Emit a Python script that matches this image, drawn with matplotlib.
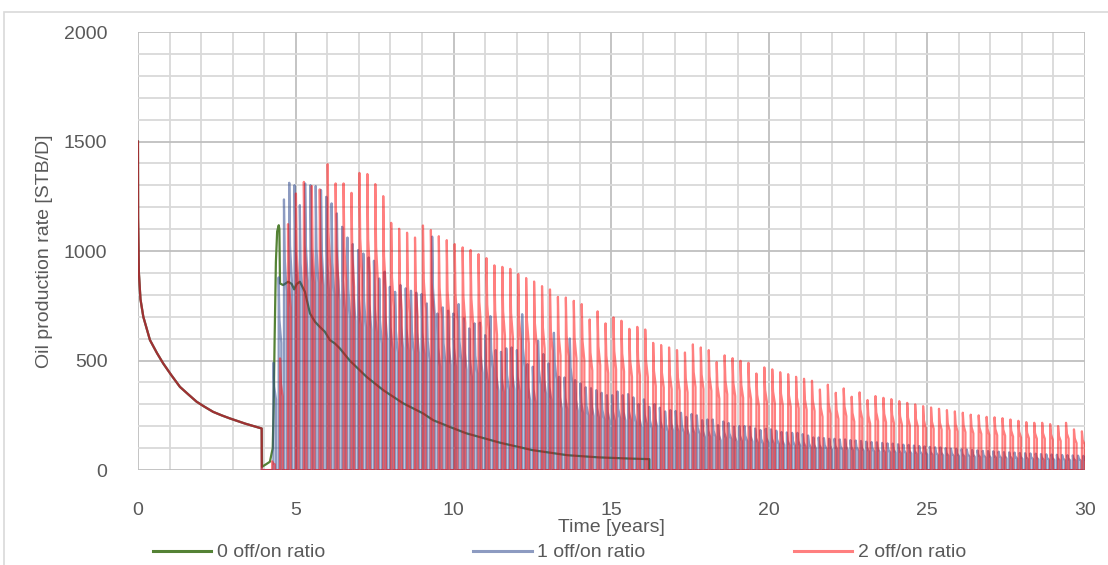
import matplotlib
matplotlib.use("Agg")
import matplotlib.pyplot as plt
from matplotlib.ticker import MultipleLocator
from matplotlib.patches import Rectangle
from matplotlib.lines import Line2D

# ---- data ----
# early decline, identical for all three cases until the first shut-in
base_t = [0.0, 0.005, 0.03, 0.08, 0.17, 0.38, 0.6, 0.8, 1.05, 1.33, 1.6, 1.86,
          2.1, 2.38, 2.65, 2.91, 3.4, 3.92]
base_q = [1500, 1150, 900, 780, 700, 594, 535, 487, 435, 380, 345, 312,
          290, 266, 250, 236, 212, 190]
shut_t = 3.92

# 0 off/on ratio : continuous production after restart
cont_t = [3.93, 4.02, 4.18, 4.27, 4.3, 4.33, 4.37, 4.41, 4.46, 4.48, 4.5, 4.6,
          4.76, 4.87, 4.95, 5.03, 5.13, 5.29, 5.45, 5.61, 5.76, 5.92, 6.08, 6.24,
          6.4, 6.71, 7.24, 7.77, 8.4, 9.03, 9.35, 9.88, 10.4, 11.47, 12.5, 13.6,
          14.6, 15.5, 16.2, 16.2]
cont_q = [15, 23, 38, 100, 300, 600, 950, 1090, 1118, 1100, 852, 845,
          860, 850, 825, 850, 860, 814, 715, 677, 654, 632, 594, 578,
          555, 500, 426, 365, 305, 259, 228, 197, 168, 125, 91, 68,
          58, 53, 50, 0]

# 1 off/on ratio : cycle = 1 month on / 1 month off, peak rate of each cycle
cyc1_start, cyc1_period = 4.29, 0.1677
cyc1_peak = [490, 880, 1236, 1312, 1301, 1210, 1309, 1301, 1297, 1279,
             1248, 1218, 1172, 1111, 1062, 1032, 1005, 989, 971, 956,
             875, 906, 837, 814, 845, 830, 819, 810, 804, 761,
             1066, 715, 743, 728, 715, 758, 693, 647, 670, 673,
             616, 703, 548, 540, 556, 560, 548, 712, 484, 472,
             591, 530, 487, 627, 426, 423, 601, 411, 396, 378,
             374, 365, 353, 342, 342, 359, 342, 347, 332, 301,
             323, 289, 301, 285, 268, 274, 270, 262, 243, 256,
             250, 228, 231, 231, 205, 222, 215, 198, 201, 201,
             198, 190, 183, 189, 186, 180, 174, 172, 170, 170,
             164, 158, 149, 149, 146, 143, 143, 140, 140, 137,
             135, 133, 130, 128, 127, 124, 122, 121, 118, 116,
             115, 112, 110, 108, 106, 104, 103, 100, 98, 97,
             95, 94, 92, 90, 88, 87, 86, 84, 82, 81,
             80, 78, 77, 76, 75, 73, 72, 71, 70, 69,
             68, 67, 66, 65]

# 2 off/on ratio : cycle = 1 month on / 2 months off
cyc2_start, cyc2_period = 4.25, 0.2515
cyc2_peak = [40, 510, 1123, 1263, 1316, 1297, 1282, 1397, 1309, 1309,
             1266, 1357, 1352, 1306, 1251, 1129, 1102, 1084, 1062, 1117,
             1096, 1068, 1050, 1032, 1017, 1005, 986, 968, 935, 928,
             919, 895, 877, 861, 840, 825, 791, 788, 773, 758,
             688, 725, 670, 697, 682, 645, 654, 642, 581, 571,
             560, 548, 537, 574, 560, 548, 493, 524, 511, 499,
             490, 441, 469, 460, 447, 438, 426, 417, 408, 368,
             390, 353, 373, 335, 355, 320, 338, 330, 324, 315,
             307, 300, 292, 286, 280, 274, 268, 262, 253, 250,
             243, 241, 237, 231, 225, 219, 216, 216, 210, 201,
             216, 186, 177]

# shape of one on-period (fraction of on time, fraction of peak)
on_time = 1 / 12
spike_tf = [0, 0, 0.3, 1, 1]
spike_qf = [0, 1, 0.78, 0.66, 0]

labels = ["0 off/on ratio", "1 off/on ratio", "2 off/on ratio"]
colors = ["#548235", "#2F4A8F", "#FF0000"]
alphas = [1.0, 0.55, 0.5]


def cyclic(start, period, peaks):
    xs = list(base_t) + [shut_t]
    ys = list(base_q) + [0]
    for k, p in enumerate(peaks):
        t0 = start + k * period
        for f, v in zip(spike_tf, spike_qf):
            xs.append(t0 + f * on_time)
            ys.append(v * p)
    return xs, ys


plt.rcParams['font.family'] = ['Liberation Sans', 'DejaVu Sans']
txt = '#595959'

fig = plt.figure(figsize=(11.08, 5.65), dpi=100)
ax = fig.add_axes([0.1245, 0.168, 0.8547, 0.7752])

x0 = base_t + cont_t
y0 = base_q + cont_q
x1, y1 = cyclic(cyc1_start, cyc1_period, cyc1_peak)
x2, y2 = cyclic(cyc2_start, cyc2_period, cyc2_peak)

ax.plot(x0, y0, color=colors[0], alpha=alphas[0], lw=1.6, zorder=3)
ax.plot(x1, y1, color=colors[1], alpha=alphas[1], lw=1.6, zorder=4)
ax.plot(x2, y2, color=colors[2], alpha=alphas[2], lw=1.6, zorder=5)

ax.set_xlim(0, 30)
ax.set_ylim(0, 2000)
ax.xaxis.set_major_locator(MultipleLocator(5))
ax.xaxis.set_minor_locator(MultipleLocator(1))
ax.yaxis.set_major_locator(MultipleLocator(500))
ax.yaxis.set_minor_locator(MultipleLocator(100))
ax.grid(which='major', color='#BFBFBF', lw=1.3)
ax.grid(which='minor', color='#D9D9D9', lw=1.3)
ax.set_axisbelow(True)
for s in ax.spines.values():
    s.set_visible(False)
ax.tick_params(which='both', length=0, labelsize=14, labelcolor=txt)
ax.tick_params(axis='x', pad=23)
ax.tick_params(axis='y', pad=22)

ax.set_xlabel("Time [years]", fontsize=14, color=txt, labelpad=0)
ax.set_ylabel("Oil production rate [STB/D]", fontsize=14, color=txt, labelpad=8)

handles = [Line2D([], [], color=c, alpha=a, lw=2.2) for c, a in zip(colors, alphas)]
fig.legend(handles, labels, loc='center', bbox_to_anchor=(0.505, 0.022), ncol=3,
           frameon=False, fontsize=14, handlelength=3, handletextpad=0.3,
           columnspacing=7.6, labelcolor=txt)

fig.patches.append(Rectangle((0.0036, -0.1), 1.1, 1.0788, transform=fig.transFigure,
                             fill=False, edgecolor='#D9D9D9', lw=1.2))

fig.savefig("out.png", dpi=100)
